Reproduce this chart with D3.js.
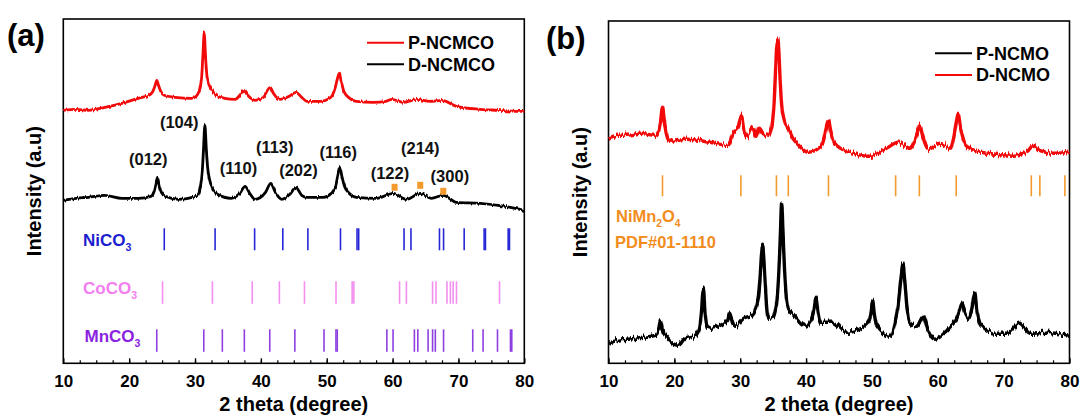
<!DOCTYPE html>
<html><head><meta charset="utf-8">
<script src="https://cdn.jsdelivr.net/npm/d3@7"></script>
<style>
body{margin:0;background:#fff}
svg{display:block}
text{font-family:"Liberation Sans",Arial,Helvetica,sans-serif;font-weight:bold}
</style>
</head><body>
<svg id="c" width="1083" height="419"></svg>
<script>
// ---------- data ----------
const xMajorTicks = [10,20,30,40,50,60,70,80];
const xMinorTicks = d3.range(12.5, 80, 2.5);

// panel (a) traces: [2theta, intensity a.u.]
const pNCMCO = [[10,253],[12,254],[13.8,253],[16.3,256],[18.9,260],[21.4,265],[23.0,268],[23.6,272],[23.95,278],[24.2,283],[24.45,278],[24.8,272],[25.3,268],[27,266],[29.5,265],[30.3,268],[30.7,274],[31.0,286],[31.2,308],[31.4,331],[31.55,312],[31.75,292],[32.0,281],[32.5,274],[33.2,268],[34.5,265],[36.1,264],[36.8,268],[37.4,273],[38.0,268],[39.1,263],[40.4,266],[40.9,272],[41.4,276],[41.9,270],[42.9,264],[44.3,267],[45.3,271],[46.2,266],[47,262],[49,262],[50.6,266],[51.3,276],[51.6,284],[51.9,290],[52.2,282],[52.6,272],[53.3,266],[54.5,262],[57.1,261],[59.0,262],[59.9,264],[61.6,261],[63.7,264],[65.7,262],[67.5,263],[69.7,257],[73.3,254],[76,253],[78.6,252],[80,252]];
const dNCMCO = [[10,163],[12,165],[13.8,166],[16.3,168],[18.9,165],[21.4,165],[23.3,167],[23.8,172],[24.05,179],[24.3,186],[24.55,178],[24.9,171],[25.5,167],[27.5,164],[29.6,166],[30.4,168],[30.8,176],[31.1,192],[31.3,215],[31.5,239],[31.7,216],[31.9,196],[32.2,183],[32.7,174],[33.4,169],[35.5,165],[36.8,170],[37.6,177],[38.3,170],[39.1,164],[40.7,171],[41.5,180],[42.2,171],[43.2,164],[44.4,169],[45.3,176],[46.2,168],[47,166],[49.5,166],[50.7,170],[51.3,176],[51.7,188],[52,196],[52.3,187],[52.7,177],[53.4,170],[54.5,166],[57.6,165],[60.1,170],[62.1,164],[64.2,170],[65.9,165],[67.7,168],[69.7,161],[73.3,160],[76,158],[78.6,155],[80,153]];

// panel (a) hkl labels [text, 2theta, intensity]
const hklLabels = [["(012)",22.9,204],["(104)",27.6,241],["(110)",36.6,195],["(113)",42.1,216],["(202)",45.7,193],["(116)",51.75,211],["(122)",59.6,190],["(214)",64.2,215],["(300)",68.7,187]];
// impurity markers [2theta, intensity]
const impurityMarks = [[60.3,176],[64.2,178],[67.7,172]];

// reference patterns (2theta)
const NiCO3 = [25.33,33.05,39.05,43.33,47.14,52.09,54.6,54.85,61.74,62.79,67.12,67.74,70.87,73.9,74.1,77.55,77.75];
const CoCO3 = [25.07,32.64,38.69,42.81,46.62,51.41,53.86,54.12,61.06,62.1,66.07,66.59,68.26,68.78,69.2,69.7,76.24];
const MnCO3 = [24.19,31.33,34.15,37.49,41.35,45.16,49.59,51.4,51.6,59.13,60.07,63.31,63.83,65.39,66.07,66.49,67.74,72.17,73.74,75.93,77.9,78.1];

// panel (b) traces
const pNCMO = [[10,20],[11.4,23],[12.8,24],[15.3,26],[17.1,28],[17.6,33],[17.9,42],[18.2,33],[18.8,26],[20.6,18],[21.6,25],[23.2,28],[23.8,35],[24.1,50],[24.4,75],[24.65,52],[25.0,37],[25.6,35],[27,38],[28.1,44],[28.4,51],[28.8,42],[29.3,37],[30.5,45],[31.7,48],[32.5,58],[32.8,68],[33.05,88],[33.25,110],[33.4,119],[33.55,108],[33.75,85],[34.0,58],[34.3,45],[35.0,46],[35.3,52],[35.6,65],[35.85,90],[36.1,128],[36.3,160],[36.5,130],[36.75,92],[37.0,66],[37.4,53],[38.1,48],[39.8,37],[40.9,46],[41.2,54],[41.5,66],[41.8,52],[42.2,41],[43.9,41],[46.2,31],[48.7,36],[49.6,43],[49.9,52],[50.1,63],[50.35,50],[50.7,38],[52.7,27],[53.5,40],[53.95,56],[54.35,82],[54.7,100],[55.0,82],[55.35,54],[55.8,40],[56.8,37],[57.8,47],[58.5,33],[59.6,24],[61.4,33],[62.9,46],[63.35,54],[63.7,60],[64.05,52],[64.6,45],[65.15,54],[65.6,70],[65.95,53],[66.5,39],[68.9,30],[70.5,30],[72.4,40],[74,30],[76.5,31],[77.8,30],[80,28]];
const dNCMO = [[10,225],[11.5,228],[12.8,228],[14.8,230],[17.1,228],[17.6,232],[17.9,242],[18.2,256],[18.45,243],[18.8,229],[19.3,222],[21.9,224],[25.4,221],[28.2,218],[28.9,230],[29.7,236],[30.2,248],[30.6,233],[31,227],[31.9,235],[32.4,226],[32.9,235],[33.6,229],[34.3,228],[34.8,237],[35.1,255],[35.35,290],[35.55,318],[35.7,324],[35.85,314],[36.05,285],[36.3,258],[36.7,243],[37.3,235],[38.0,225],[38.6,220],[40.3,211],[42.1,216],[42.7,225],[43.05,236],[43.4,243],[43.7,233],[44.1,223],[44.8,217],[47.2,210],[49.7,207],[52.2,215],[54,221],[55.8,215],[56.6,224],[57.0,232],[57.3,238],[57.6,230],[58.0,221],[58.6,214],[60.3,220],[61.9,215],[62.4,225],[62.8,240],[63.1,250],[63.4,238],[63.8,226],[64.4,217],[67.4,210],[71.5,208],[73.6,212],[74.5,218],[75.4,213],[76.5,211],[77.8,210],[80,211]];
const NiMn2O4 = [18.2,30.1,35.5,37.3,43.4,53.6,57.2,62.8,74.2,75.5,79.3];

// ---------- drawing ----------
const svg = d3.select("#c");
const RED = "#f20a0a", BLACK = "#000";
const ORANGE = "#f39a2e";

// measurement-noise texture (rendering style only, data untouched)
const defs = svg.append("defs");
function noiseFilter(id, freq, scale){
  const f = defs.append("filter").attr("id",id).attr("filterUnits","userSpaceOnUse")
    .attr("x",0).attr("y",0).attr("width",1083).attr("height",419)
    .attr("color-interpolation-filters","sRGB");
  f.append("feTurbulence").attr("type","fractalNoise").attr("baseFrequency",freq)
    .attr("numOctaves",2).attr("seed",3).attr("result","t");
  f.append("feColorMatrix").attr("in","t").attr("type","matrix")
    .attr("values","0 0 0 0 0.5  0 1 0 0 0  0 0 1 0 0  0 0 0 0 1").attr("result","n");
  f.append("feDisplacementMap").attr("in","SourceGraphic").attr("in2","n")
    .attr("scale",scale).attr("xChannelSelector","R").attr("yChannelSelector","G");
}
noiseFilter("noiseA","0.6 0.02",4);
noiseFilter("noiseB","0.6 0.02",8);

function panel(o){
  const x = d3.scaleLinear().domain([10,80]).range([o.left, o.right]);
  const y = d3.scaleLinear().domain([0, o.ymax]).range([o.bottom, o.top]);
  const g = svg.append("g");
  g.append("g").attr("transform",`translate(0,${o.bottom})`)
    .call(d3.axisBottom(x).tickValues(xMinorTicks).tickSize(-3).tickFormat(""))
    .call(a=>{a.select(".domain").remove(); a.selectAll("line").attr("stroke","#000").attr("stroke-width",1.2);});
  const ax = g.append("g").attr("transform",`translate(0,${o.bottom})`)
    .call(d3.axisBottom(x).tickValues(xMajorTicks).tickSize(-5).tickPadding(12).tickFormat(d3.format("d")));
  ax.select(".domain").remove();
  ax.selectAll("line").attr("stroke","#000").attr("stroke-width",1.4);
  ax.selectAll("text").attr("font-size",17).attr("fill","#000")
    .style("font-family","'Liberation Sans',Arial,sans-serif").style("font-weight","bold");
  g.append("rect").attr("x",o.left).attr("y",o.top).attr("width",o.right-o.left).attr("height",o.bottom-o.top)
    .attr("fill","none").attr("stroke","#000").attr("stroke-width",1.6);
  g.append("text").attr("x",(o.left+o.right)/2).attr("y",411).attr("text-anchor","middle")
    .attr("font-size",20).text("2 theta (degree)");
  g.append("text").attr("transform",`translate(${o.left-22},${(o.top+o.bottom)/2}) rotate(-90)`)
    .attr("text-anchor","middle").attr("font-size",20).text("Intensity (a.u)");
  g.append("text").attr("x",o.tagX).attr("y",o.tagY).attr("font-size",31).text(o.tag);
  return {x,y,g};
}

function trace(p, data, color, w, filt){
  const line = d3.line().x(d=>p.x(d[0])).y(d=>p.y(d[1])).curve(d3.curveMonotoneX);
  p.g.append("path").datum(data).attr("d",line).attr("fill","none")
    .attr("stroke",color).attr("stroke-width",w).attr("stroke-linejoin","round")
    .attr("filter",`url(#${filt})`);
}
function sticks(p, data, i0, i1, color, w){
  p.g.append("g").selectAll("line").data(data).join("line")
    .attr("x1",d=>p.x(d)).attr("x2",d=>p.x(d))
    .attr("y1",p.y(i0)).attr("y2",p.y(i1))
    .attr("stroke",color).attr("stroke-width",w);
}
function subLabel(p, xpx, ypx, parts, color, size){
  const t = p.g.append("text").attr("x",xpx).attr("y",ypx).attr("font-size",size).attr("fill",color);
  let lowered = false;
  parts.forEach(([s,sub])=>{
    if(sub){ t.append("tspan").attr("font-size",size*0.62).attr("dy",lowered?0:5).text(s); lowered = true; }
    else { t.append("tspan").attr("dy",lowered?-5:0).text(s); lowered = false; }
  });
  return t;
}
function legend(p, pos, items){
  items.forEach(([label,color],i)=>{
    const yy = pos.y + i*pos.dy;
    p.g.append("line").attr("x1",pos.x).attr("x2",pos.x+37).attr("y1",yy).attr("y2",yy)
      .attr("stroke",color).attr("stroke-width",2);
    p.g.append("text").attr("x",pos.x+41).attr("y",yy).attr("dy","0.36em").attr("font-size",18).text(label);
  });
}

// Panel (a)
const A = panel({left:63.3,right:524.3,top:19,bottom:363.3,ymax:344.3,tag:"(a)",tagX:7,tagY:46});
trace(A, pNCMCO, RED, 2.8, "noiseA");
trace(A, dNCMCO, BLACK, 2.8, "noiseA");
A.g.append("g").selectAll("text").data(hklLabels).join("text")
  .attr("x",d=>A.x(d[1])).attr("y",d=>A.y(d[2])).attr("dy","0.36em")
  .attr("text-anchor","middle").attr("font-size",16.5).attr("fill","#111").text(d=>d[0]);
A.g.append("g").selectAll("rect").data(impurityMarks).join("rect")
  .attr("x",d=>A.x(d[0])-3).attr("y",d=>A.y(d[1])-3.5).attr("width",6).attr("height",7).attr("fill",ORANGE);
sticks(A, NiCO3, 113, 135, "#2626d6", 1.6);
sticks(A, CoCO3, 59.5, 82, "#f28ff0", 1.6);
sticks(A, MnCO3, 11.5, 34, "#8d3fe0", 1.6);
subLabel(A, 83, 246, [["NiCO"],["3",true]], "#1d1dcf", 17);
subLabel(A, 83, 294, [["CoCO"],["3",true]], "#f27ef0", 17);
subLabel(A, 84.5, 342, [["MnCO"],["3",true]], "#8a22e0", 17);
legend(A, {x:367,y:42.7,dy:21.6}, [["P-NCMCO",RED],["D-NCMCO",BLACK]]);

// Panel (b)
const B = panel({left:608.5,right:1069.5,top:21,bottom:363.3,ymax:342.3,tag:"(b)",tagX:546,tagY:49});
trace(B, dNCMO, RED, 3.4, "noiseB");
trace(B, pNCMO, BLACK, 3.4, "noiseB");
sticks(B, NiMn2O4, 167, 188, ORANGE, 1.6);
subLabel(B, 616, 222, [["NiMn"],["2",true],["O"],["4",true]], "#f28c1c", 16.5);
B.g.append("text").attr("x",615).attr("y",247.5).attr("font-size",16.5).attr("fill","#f28c1c").text("PDF#01-1110");
legend(B, {x:935,y:53.3,dy:21.7}, [["P-NCMO",BLACK],["D-NCMO",RED]]);
</script>
</body></html>
